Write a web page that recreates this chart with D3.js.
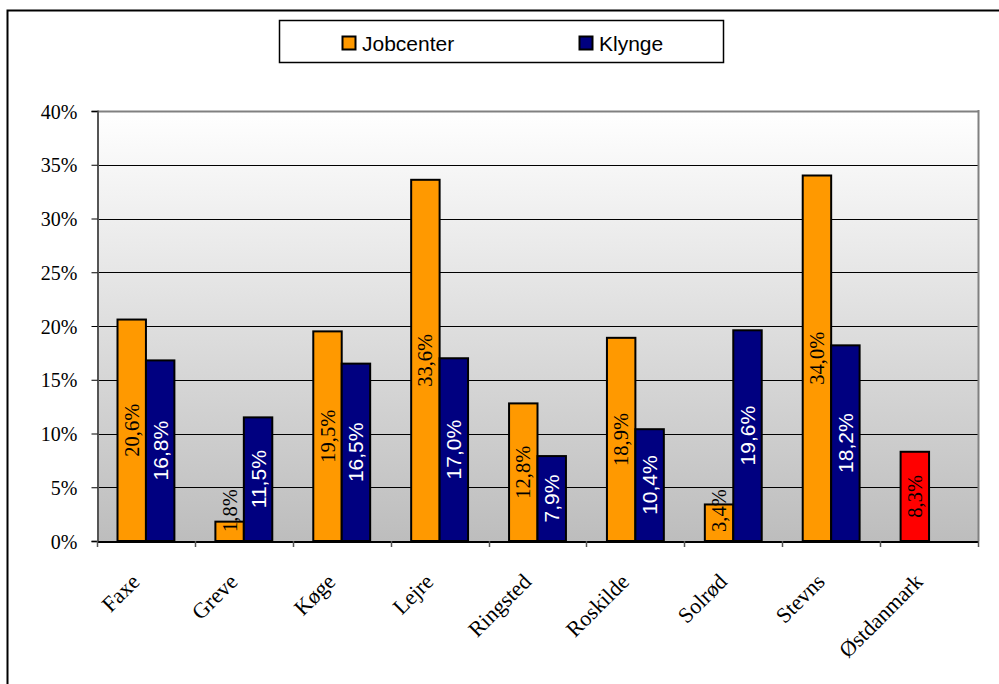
<!DOCTYPE html>
<html>
<head>
<meta charset="utf-8">
<script src="https://cdn.jsdelivr.net/npm/d3@7"></script>
<style>
  html, body { margin: 0; padding: 0; background: #fff; }
  svg { display: block; }
</style>
</head>
<body>
<svg id="chart" width="999" height="684"></svg>
<script>
const categories = ["Faxe", "Greve", "Køge", "Lejre", "Ringsted", "Roskilde", "Solrød", "Stevns", "Østdanmark"];
const jobcenter = [20.6, 1.8, 19.5, 33.6, 12.8, 18.9, 3.4, 34.0, 8.3];
const klynge = [16.8, 11.5, 16.5, 17.0, 7.9, 10.4, 19.6, 18.2, null];
const seriesNames = ["Jobcenter", "Klynge"];
const seriesColors = ["#ff9900", "#000080"];
const highlightColor = "#ff0000"; // Østdanmark point
const yTicks = [0, 5, 10, 15, 20, 25, 30, 35, 40];

const svg = d3.select("#chart");
const m = { left: 97, right: 978, top: 111, bottom: 541 };
const SERIF = "'Liberation Serif', 'Times New Roman', serif";
const SANS = "'Liberation Sans', Arial, sans-serif";

// outer frame (cropped at right/bottom)
svg.append("rect").attr("x", 7.5).attr("y", 10.5).attr("width", 1100).attr("height", 800)
  .attr("fill", "none").attr("stroke", "#000").attr("stroke-width", 2);

const defs = svg.append("defs");
const grad = defs.append("linearGradient").attr("id", "bg").attr("x1", 0).attr("y1", 0).attr("x2", 0).attr("y2", 1);
grad.append("stop").attr("offset", "0%").attr("stop-color", "#ffffff");
grad.append("stop").attr("offset", "100%").attr("stop-color", "#bdbdbd");

const x = d3.scaleBand().domain(categories).range([m.left, m.right]).paddingInner(0).paddingOuter(0);
const y = d3.scaleLinear().domain([0, 40]).range([m.bottom, m.top]);

svg.append("rect").attr("x", m.left).attr("y", m.top).attr("width", m.right - m.left).attr("height", m.bottom - m.top)
  .attr("fill", "url(#bg)");

// gridlines
svg.append("g").selectAll("line").data(yTicks.filter(d => d > 0)).join("line")
  .attr("x1", m.left).attr("x2", m.right)
  .attr("y1", d => Math.round(y(d)) + 0.5).attr("y2", d => Math.round(y(d)) + 0.5)
  .attr("stroke", d => d === 40 ? "#808080" : "#000").attr("stroke-width", d => d === 40 ? 2 : 1);

// right border
svg.append("line").attr("x1", m.right + 0.5).attr("x2", m.right + 0.5).attr("y1", m.top - 1).attr("y2", m.bottom)
  .attr("stroke", "#808080").attr("stroke-width", 2);

// y axis
const yAxis = d3.axisLeft(y).tickValues(yTicks).tickSize(6).tickPadding(14).tickFormat(d => d + "%");
const gy = svg.append("g").attr("transform", `translate(${m.left + 0.5},0)`).call(yAxis);
gy.select(".domain").attr("stroke", "#555").attr("stroke-width", 2);
gy.selectAll(".tick line").attr("stroke", "#000");
gy.selectAll(".tick text").attr("font-family", SERIF)
  .attr("font-size", 20).attr("fill", "#000").attr("dy", "0.36em");

// bars
const inner = 20.5;
const bw = (x.bandwidth() - 2 * inner) / 2;
const bars = [];
categories.forEach((c, i) => {
  [jobcenter[i], klynge[i]].forEach((v, s) => {
    if (v == null) return;
    const isHi = c === "Østdanmark";
    bars.push({ c, v, s, color: isHi ? highlightColor : seriesColors[s], hi: isHi });
  });
});

svg.append("g").selectAll("rect").data(bars).join("rect")
  .attr("x", d => x(d.c) + inner + d.s * bw)
  .attr("y", d => y(d.v))
  .attr("width", bw)
  .attr("height", d => y(0) - y(d.v))
  .attr("fill", d => d.color)
  .attr("stroke", "#000").attr("stroke-width", 2);

// x axis
const xAxis = d3.axisBottom(x).tickSize(0).tickFormat("");
const gx = svg.append("g").attr("transform", `translate(0,${m.bottom + 0.5})`).call(xAxis);
gx.select(".domain").attr("stroke", "#000").attr("stroke-width", 2);
const tickPos = categories.map(c => x(c)).concat([m.right]);
svg.append("g").selectAll("line").data(tickPos).join("line")
  .attr("x1", d => Math.round(d) + 0.5).attr("x2", d => Math.round(d) + 0.5)
  .attr("y1", m.bottom).attr("y2", m.bottom + 6).attr("stroke", "#555").attr("stroke-width", 1.5);

svg.append("g").selectAll("text").data(categories).join("text")
  .attr("transform", c => `translate(${x(c) + x.bandwidth() / 2 - 5},583) rotate(-45)`)
  .attr("text-anchor", "end")
  .attr("font-family", SERIF)
  .attr("font-size", 22).attr("fill", "#000")
  .text(c => c);

// data labels
const fmt = v => v.toFixed(1).replace(".", ",") + "%";
const lbl = svg.append("g");
bars.forEach(d => {
  const cx = x(d.c) + inner + d.s * bw + bw / 2;
  const serif = d.s === 0;
  const t = lbl.append("text")
    .attr("font-family", serif ? SERIF : SANS)
    .attr("font-size", serif ? 20.5 : 21)
    .attr("fill", serif ? "#000" : "#fff")
    .attr("text-anchor", "middle")
    .attr("dominant-baseline", "central")
    .text(fmt(d.v));
  const len = t.node().getComputedTextLength();
  const barCenter = (y(d.v) + y(0)) / 2;
  const cy = Math.min(barCenter, y(0) - 9 - len / 2);
  t.attr("transform", `translate(${cx},${cy}) rotate(-90)`);
});

// legend
const lg = svg.append("g");
lg.append("rect").attr("x", 279.5).attr("y", 20.5).attr("width", 444).attr("height", 42)
  .attr("fill", "#fff").attr("stroke", "#000").attr("stroke-width", 1.5);
const legX = [342, 579];
seriesNames.forEach((n, i) => {
  lg.append("rect").attr("x", legX[i] + 0.5).attr("y", 36.5).attr("width", 13).attr("height", 13)
    .attr("fill", seriesColors[i]).attr("stroke", "#000").attr("stroke-width", 2);
  lg.append("text").attr("x", legX[i] + 20).attr("y", 43).attr("dominant-baseline", "central")
    .attr("font-family", SANS).attr("font-size", 21).attr("fill", "#000")
    .text(n);
});
</script>
</body>
</html>
